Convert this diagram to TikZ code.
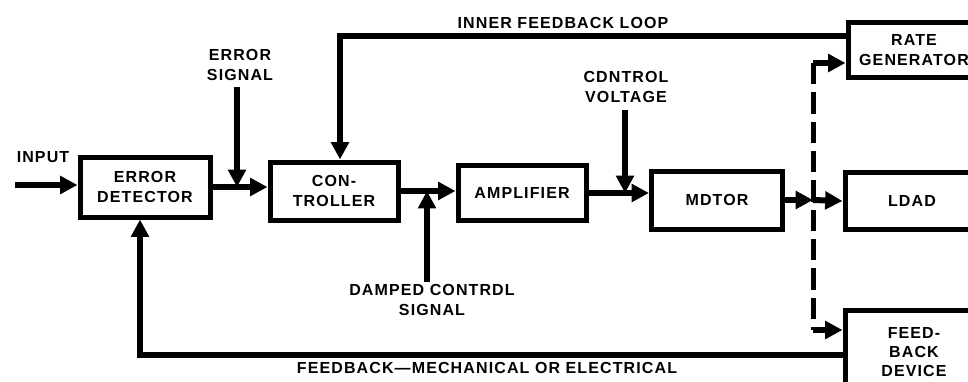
\documentclass[tikz,border=0pt]{standalone}
\usepackage{fontspec}
\setmainfont{Liberation Sans}
\newfontfamily\widesans[LetterSpace=7]{Liberation Sans}
\usetikzlibrary{arrows.meta,calc}
\begin{document}
\begin{tikzpicture}[x=0.75pt,y=-0.75pt,
  txt/.style={font=\widesans\fontsize{12}{15}\selectfont\bfseries, align=center, inner sep=0pt},
  blk/.style={txt, draw, line width=3.75pt},
  conn/.style={line width=4.5pt, -{Triangle[length=13pt,width=13pt]}},
  dline/.style={line width=3.75pt, dash pattern=on 16pt off 6pt}]
\clip (0,0) rectangle (968,382);
\fill[white] (0,0) rectangle (968,382);
% blocks
\node[blk, minimum width=97.5pt, minimum height=45pt] (ed) at (145,187) {ERROR\\DETECTOR};
\node[blk, minimum width=96pt, minimum height=43.5pt] (ct) at (334,191) {CON-\\TROLLER};
\node[blk, minimum width=96pt, minimum height=41.25pt] (amp) at (522,193) {AMPLIFIER};
\node[blk, minimum width=98.25pt, minimum height=43.5pt] (mot) at (717,200) {MDTOR};
\node[blk, minimum width=100.5pt, minimum height=42.75pt] (load) at (912,201) {LDAD};
\node[blk, minimum width=99pt, minimum height=41.25pt] (rg) at (914,50) {RATE\\GENERATOR};
\node[blk, minimum width=103.5pt, minimum height=63pt, font=\widesans\fontsize{12}{14}\selectfont\bfseries] (fb) at (914,352) {FEED-\\BACK\\DEVICE};
% labels
\node[txt] (inl) at (43,157) {INPUT};
\node[txt] (esl) at (240,65) {ERROR\\SIGNAL};
\node[txt] (ifl) at (563,23) {INNER FEEDBACK LOOP};
\node[txt] (cvl) at (626,87) {CDNTROL\\VOLTAGE};
\node[txt] (dcl) at (432,300) {DAMPED CONTRDL\\SIGNAL};
\node[txt] (fbl) at (487,368) {FEEDBACK—MECHANICAL OR ELECTRICAL};
% coordinates
\coordinate (in) at (15,185);
\coordinate (ess) at (237,87);
\coordinate (dcs) at (427,282);
\coordinate (cvs) at (625,110);
\coordinate (dmid) at (813,200);
\coordinate (dtop) at (813,63);
\coordinate (dbot) at (813,330);
% forward path
\draw[conn] (in) -- (in -| ed.west);
\draw[conn] (ed.east) -- (ed.east -| ct.west);
\draw[conn] (ct.east) -- (ct.east -| amp.west);
\draw[conn] (amp.east) -- (amp.east -| mot.west);
\draw[conn] (mot.east) -- (dmid);
\draw[conn] (dmid) -- (load.west);
% side inputs
\draw[conn] (ess) -- (ess |- ed.east);
\draw[conn] (dcs) -- (dcs |- ct.east);
\draw[conn] (cvs) -- (cvs |- amp.east);
% inner feedback loop
\draw[conn] ($(rg.west)+(0,-14)$) -| ($(ct.north)+(6,0)$);
% dashed coupling
\draw[dline] (dtop) -- (dbot);
\draw[conn] (dtop) -- (dtop -| rg.west);
\draw[conn] (dbot) -- (dbot -| fb.west);
% outer feedback
\draw[conn] ($(fb.west)+(0,3)$) -| ($(ed.south)+(-5,0)$);
\end{tikzpicture}
\end{document}
